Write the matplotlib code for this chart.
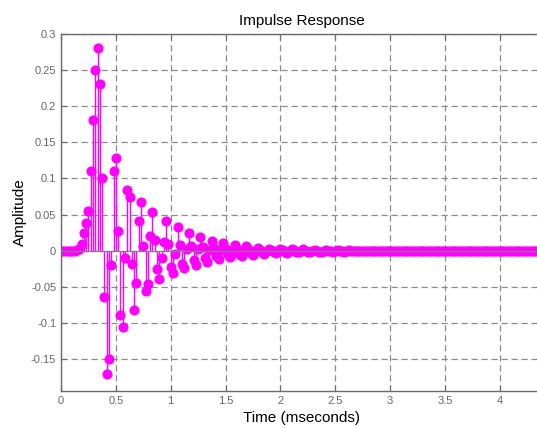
import numpy as np
import matplotlib.pyplot as plt
from matplotlib.ticker import FormatStrFormatter

plt.rcParams['font.family'] = ['Liberation Sans', 'DejaVu Sans']
plt.rcParams['axes.unicode_minus'] = False

# sample rate (kHz) -> time axis in milliseconds
fs_khz = 48.0

# impulse response samples
amp = [
    0.0, 0.0, 0.0, 0.0, 0.0, 0.0, 0.0, 0.001, 0.003, 0.01,
    0.025, 0.038, 0.055, 0.11, 0.18, 0.25, 0.28, 0.23, 0.10, -0.064,
    -0.17, -0.15, -0.019, 0.11, 0.128, 0.027, -0.089, -0.105, -0.01, 0.084,
    0.074, -0.018, -0.082, -0.045, 0.041, 0.068, 0.007, -0.056, -0.046, 0.02,
    0.053, 0.015, -0.025, -0.039, -0.01, 0.012, 0.041, 0.01, -0.022, -0.031,
    -0.004, 0.033, 0.008, -0.018, -0.024, 0.003, 0.024, 0.006, -0.013, -0.019,
    0.002, 0.019, 0.005, -0.01, -0.015, 0.001, 0.014, 0.004, -0.007, -0.011,
    0.001, 0.011, 0.003, -0.005, -0.009, 0.001, 0.008, 0.002, -0.004, -0.007,
    0.0, 0.006, 0.002, -0.003, -0.006, 0.0, 0.004, 0.001, -0.002, -0.004,
    0.0, 0.003, 0.001, -0.002, -0.003, 0.0, 0.002, 0.001, -0.001, -0.003,
    0.0, 0.002, 0.001, -0.001, -0.002, 0.0, 0.002, 0.0, -0.001, -0.002,
    0.0, 0.001, 0.0, -0.001, -0.001, 0.0, 0.001, 0.0, 0.0, -0.001,
    0.0, 0.001, 0.0, 0.0, -0.001, 0.0, 0.001, 0.0, 0.0, 0.0,
    0.0, 0.0, 0.0, 0.0, 0.0, 0.0, 0.0, 0.0, 0.0, 0.0,
    0.0, 0.0, 0.0, 0.0, 0.0, 0.0, 0.0, 0.0, 0.0, 0.0,
    0.0, 0.0, 0.0, 0.0, 0.0, 0.0, 0.0, 0.0, 0.0, 0.0,
    0.0, 0.0, 0.0, 0.0, 0.0, 0.0, 0.0, 0.0, 0.0, 0.0,
    0.0, 0.0, 0.0, 0.0, 0.0, 0.0, 0.0, 0.0, 0.0, 0.0,
    0.0, 0.0, 0.0, 0.0, 0.0, 0.0, 0.0, 0.0, 0.0, 0.0,
    0.0, 0.0, 0.0, 0.0, 0.0, 0.0, 0.0, 0.0, 0.0, 0.0,
    0.0, 0.0, 0.0, 0.0, 0.0, 0.0, 0.0, 0.0, 0.0,
]
t_ms = np.arange(len(amp)) / fs_khz

x_ticks = [0, 0.5, 1, 1.5, 2, 2.5, 3, 3.5, 4]
y_ticks = [-0.15, -0.1, -0.05, 0, 0.05, 0.1, 0.15, 0.2, 0.25, 0.3]

fig = plt.figure(figsize=(5.37, 4.28), dpi=100)
ax = fig.add_axes([61 / 537, 1 - 391 / 428, 481 / 537, 357.5 / 428])

markerline, stemlines, baseline = ax.stem(t_ms, amp, linefmt='-', markerfmt='o', basefmt=' ')
stemlines.set_color('#ff00ff')
stemlines.set_linewidth(1.0)
markerline.set_color('#ff00ff')
markerline.set_markerfacecolor('#ff00ff')
markerline.set_markersize(6.3)
ax.axhline(0, color='#808080', linewidth=0.9, zorder=5)

ax.set_xlim(0, 481 / 109.7)
ax.set_ylim(-0.1936, 0.3)
ax.set_xticks(x_ticks)
ax.set_yticks(y_ticks)
ax.yaxis.set_major_formatter(FormatStrFormatter('%g'))
ax.xaxis.set_major_formatter(FormatStrFormatter('%g'))

ax.grid(True, color='#8a8a8a', linestyle=(0, (5, 3)), linewidth=0.9)
ax.set_axisbelow(True)
for s in ax.spines.values():
    s.set_color('#6a6a6a')
    s.set_linewidth(1.0)
ax.tick_params(direction='in', length=4, colors='#6a6a6a', labelsize=8,
               top=True, right=True, labelcolor='#666666')

ax.set_title('Impulse Response', fontsize=11, pad=6)
ax.set_xlabel('Time (mseconds)', fontsize=11, labelpad=4)
ax.set_ylabel('Amplitude', fontsize=11, labelpad=3)

fig.savefig('out.png', dpi=100)
